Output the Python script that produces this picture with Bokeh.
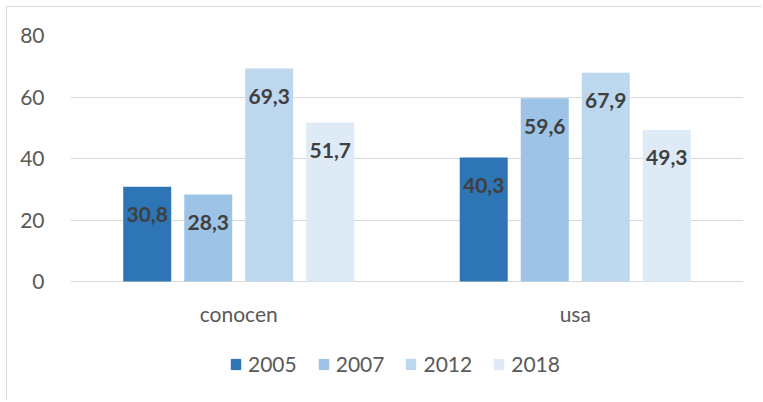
from bokeh.plotting import figure
from bokeh.models import FactorRange, Range1d, FixedTicker, Legend, LegendItem, ColumnDataSource
from bokeh.transform import dodge
from bokeh.core.properties import value
from bokeh.embed import file_html
from bokeh.resources import INLINE

categories = ["conocen", "usa"]
years = ["2005", "2007", "2012", "2018"]
v2005 = [30.8, 40.3]
v2007 = [28.3, 59.6]
v2012 = [69.3, 67.9]
v2018 = [51.7, 49.3]
series = [v2005, v2007, v2012, v2018]
colors = ["#2e75b6", "#9dc3e6", "#bdd7ee", "#deebf7"]
offsets = [-0.272, -0.0906, 0.0906, 0.272]
y_ticks = [0, 20, 40, 60, 80]
y_max = 80

FONT = "Lato"

W, H = 755, 394
top_b, bot_b = 28, 1
frame_h = H - top_b - bot_b
plot_h = 246  # pixels between 0 and 80
y_start = y_max - y_max * frame_h / plot_h

p = figure(
    x_range=FactorRange(*categories), y_range=Range1d(y_start, y_max),
    width=W, height=H, output_backend="svg", toolbar_location=None,
    min_border_left=63, min_border_right=19, min_border_top=top_b, min_border_bottom=bot_b,
)
p.styles = {"border-left": "1px solid #d9d9d9", "border-top": "1px solid #d9d9d9",
            "margin-left": "6px", "margin-top": "6px"}
p.outline_line_color = None
p.background_fill_color = "white"
p.border_fill_color = "white"

items = []
for yr, vals, col, off in zip(years, series, colors, offsets):
    src = ColumnDataSource(dict(cat=categories, val=vals,
                                lbl=[f"{v:.1f}".replace(".", ",") for v in vals]))
    r = p.vbar(x=dodge("cat", off, range=p.x_range), top="val", bottom=0, width=0.1426,
               source=src, fill_color=col, line_color=None)
    p.text(x=dodge("cat", off, range=p.x_range), y="val", text="lbl", source=src,
           y_offset=28, text_align="center", text_baseline="middle",
           text_font=value(FONT), text_font_style="bold", text_font_size="21px",
           text_color="#404040")
    items.append(LegendItem(label=yr, renderers=[r]))

# category labels under the zero line
cat_src = ColumnDataSource(dict(cat=categories, y=[0] * len(categories)))
p.text(x="cat", y="y", text="cat", source=cat_src, y_offset=32,
       text_align="center", text_baseline="middle",
       text_font=value(FONT), text_font_size="21px", text_color="#595959")

p.xaxis.visible = False
p.xgrid.grid_line_color = None
p.ygrid.grid_line_color = "#d9d9d9"
p.ygrid.grid_line_width = 1
p.ygrid.ticker = FixedTicker(ticks=y_ticks)

p.yaxis.ticker = FixedTicker(ticks=y_ticks)
p.yaxis.axis_line_color = None
p.yaxis.major_tick_line_color = None
p.yaxis.minor_tick_line_color = None
p.yaxis.major_label_text_font = FONT
p.yaxis.major_label_text_font_size = "21px"
p.yaxis.major_label_text_color = "#595959"
p.yaxis.major_label_standoff = 20

legend = Legend(items=items, orientation="horizontal", location=(159, 24),
                padding=0, margin=0, spacing=20, glyph_width=13, glyph_height=14,
                label_standoff=6, label_width=47,
                label_text_font=FONT, label_text_font_size="21px",
                label_text_color="#595959",
                border_line_color=None, background_fill_alpha=0)
p.add_layout(legend, "center")

open("out.html", "w").write(file_html(p, INLINE))
